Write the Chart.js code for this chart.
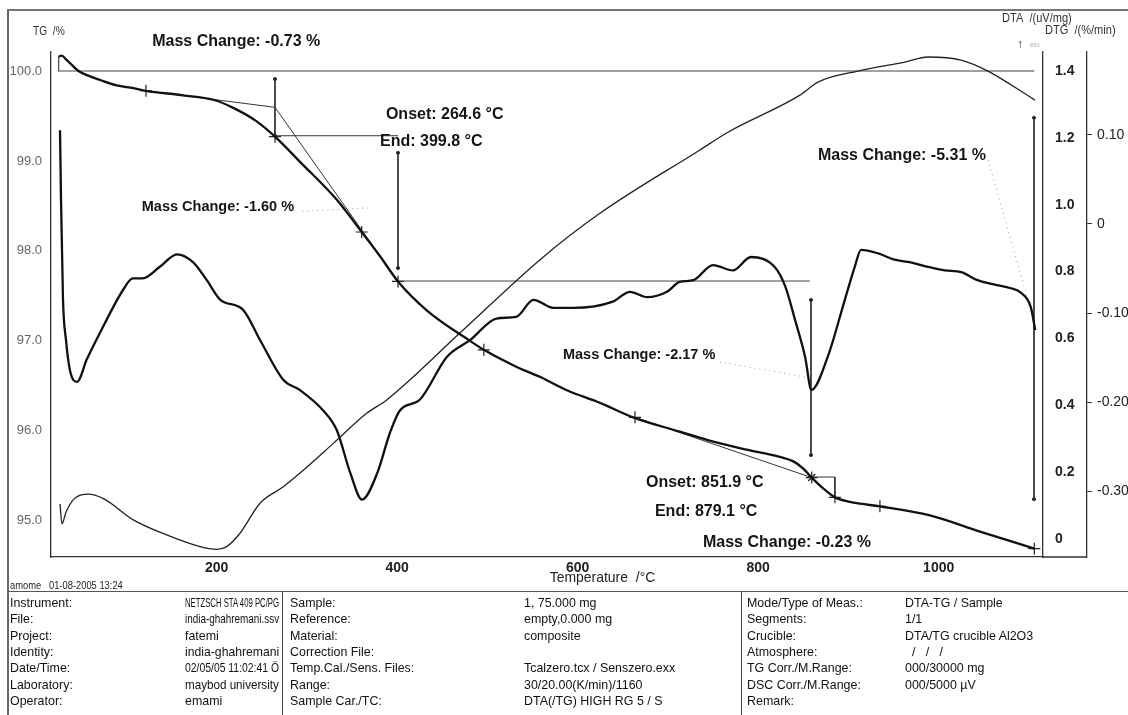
<!DOCTYPE html>
<html>
<head>
<meta charset="utf-8">
<title>DTA-TG india-ghahremani</title>
<script src="https://cdn.jsdelivr.net/npm/chart.js@4.4.1/dist/chart.umd.min.js"></script>
<style>
  body { margin: 0; background: #fff; }
  #page { position: relative; width: 1128px; height: 715px; overflow: hidden; background: #fff; }
  #frame { position: absolute; left: 7px; top: 9px; width: 1130px; height: 720px;
           border-left: 2px solid #666; border-top: 2px solid #777; }
  #myChart { position: absolute; left: 0; top: 0; }
  .narrow { font-family: "Liberation Sans", Arial, sans-serif; }
  #stamp { position: absolute; left: 10px; top: 578px; font-size: 11px; color: #222; line-height: 14px;
           transform: scaleX(0.85); transform-origin: left center; white-space: pre; }
  #info { position: absolute; left: 8px; top: 591px; width: 1120px; height: 130px;
          border-top: 1.5px solid #555; font-size: 13.5px; color: #111; }
  #info .vline { position: absolute; top: 0; width: 0; height: 130px; border-left: 1.5px solid #444; }
  #info .cell { position: absolute; line-height: 16px; white-space: pre; transform-origin: left center; }
</style>
</head>
<body>
<div id="page">
  <div id="frame"></div>
  <canvas id="myChart" width="1128" height="592"></canvas>
  <div id="stamp" class="narrow">amome   01-08-2005 13:24</div>
  <div id="info" class="narrow">
    <div class="vline" style="left:274px"></div>
    <div class="vline" style="left:733px"></div>
  </div>
</div>
<script>
// TG curve (mass %)
const tgTemp = [24.9, 28.2, 34, 46.9, 59.6, 70.7, 89.2, 107.6, 121.6, 163, 196.2, 218.4, 244.3, 264.6, 292.3, 332.9, 360.7, 381, 400.9, 432.7, 480.6, 496, 532.4, 558, 588, 624.7, 661.3, 713.4, 750.3, 787.3, 824, 839, 850, 859.3, 872, 885, 901.7, 913, 934.9, 990.4, 1045.8, 1106];
const tgMass = [100.16, 100.17, 100.12, 100.0, 99.94, 99.9, 99.84, 99.81, 99.78, 99.73, 99.68, 99.59, 99.44, 99.27, 98.99, 98.57, 98.21, 97.94, 97.66, 97.34, 97.0, 96.9, 96.71, 96.6, 96.45, 96.31, 96.15, 95.99, 95.88, 95.79, 95.71, 95.66, 95.58, 95.48, 95.36, 95.26, 95.21, 95.19, 95.16, 95.06, 94.88, 94.69];

// DTA curve (uV/mg)
const dtaTemp = [26.4, 28.5, 33, 42, 57.7, 75, 107.6, 144.6, 181.5, 200, 211, 225.8, 248, 273.8, 292.3, 329.2, 366.2, 388.4, 473, 558, 625, 735.5, 766.5, 846.3, 866.3, 910.6, 962.7, 988.2, 1024.7, 1054.6, 1106.7];
const dtaSignal = [0.105, 0.045, 0.08, 0.12, 0.134, 0.12, 0.057, 0.012, -0.023, -0.031, -0.023, 0.017, 0.107, 0.156, 0.197, 0.286, 0.376, 0.416, 0.625, 0.835, 0.975, 1.164, 1.217, 1.328, 1.367, 1.4, 1.427, 1.442, 1.433, 1.4, 1.313];

// DTG curve (%/min)
const dtgTemp = [26.4, 27.5, 29.7, 33, 37.4, 45.2, 56, 70.7, 96.2, 107, 118, 137, 156, 174, 189, 204, 229, 248, 274, 292, 318, 333, 348, 361, 378, 392, 403, 425, 455, 481, 510, 532, 551, 573, 595, 639, 658, 677, 699, 713, 728, 750, 772, 792, 819, 830, 841, 852, 859, 877, 896, 907, 914, 933, 951, 969, 988, 1007, 1025, 1043, 1062, 1080, 1091, 1102, 1107];
const dtgRate = [0.105, 0.027, -0.085, -0.13, -0.164, -0.177, -0.152, -0.122, -0.074, -0.061, -0.061, -0.048, -0.034, -0.043, -0.063, -0.085, -0.096, -0.13, -0.175, -0.186, -0.209, -0.231, -0.279, -0.309, -0.279, -0.234, -0.209, -0.197, -0.149, -0.13, -0.106, -0.104, -0.085, -0.094, -0.094, -0.087, -0.076, -0.082, -0.076, -0.065, -0.063, -0.046, -0.052, -0.037, -0.049, -0.07, -0.108, -0.149, -0.186, -0.149, -0.085, -0.048, -0.029, -0.033, -0.04, -0.043, -0.048, -0.052, -0.054, -0.063, -0.068, -0.072, -0.077, -0.093, -0.119];

// evaluation marks on the TG curve
const crossTemp = [121.6, 264.6, 360.7, 400.9, 496, 663.5, 859.3, 885, 934.9, 1106];
const crossMass = [99.78, 99.27, 98.21, 97.66, 96.9, 96.15, 95.48, 95.26, 95.16, 94.69];

// construction lines of the step evaluation ([temp, mass])
const baseLine = [[24.9, 100.16], [24.9, 100.0], [1106, 100.0]];
const tangentA = [[121.6, 99.78], [264.6, 99.596]];
const tangentB = [[264.6, 99.596], [400.9, 97.66]];
const tangentC = [[663.5, 96.15], [859.3, 95.48]];
const levelA = [[264.6, 99.28], [400.9, 99.28]];
const levelB = [[400.9, 97.665], [857.4, 97.665]];
const stepBox = [[859.3, 95.486], [885, 95.486], [885, 95.26]];
const arrowA = [[264.6, 99.91], [264.6, 99.28]];
const arrowB = [[400.9, 99.09], [400.9, 97.81]];
const arrowC = [[858.5, 97.454], [858.5, 95.73]];
const arrowD = [[1105.6, 99.48], [1105.6, 95.24]];
const leaderA = [[295, 98.44], [372, 98.48]];
const leaderB = [[757.7, 96.765], [852, 96.598]];
const leaderC = [[1054.6, 99.01], [1102.3, 97.34]];

// tick labels
const tempTicks = [200, 400, 600, 800, 1000];
const tgTicks = [95, 96, 97, 98, 99, 100];
const dtaTicks = [0, 0.2, 0.4, 0.6, 0.8, 1.0, 1.2, 1.4];
const dtgTicks = [0.1, 0, -0.1, -0.2, -0.3];

// info block under the plot
const infoLabels1 = ['Instrument:', 'File:', 'Project:', 'Identity:', 'Date/Time:', 'Laboratory:', 'Operator:'];
const infoValues1 = ['NETZSCH STA 409 PC/PG', 'india-ghahremani.ssv', 'fatemi', 'india-ghahremani', '02/05/05 11:02:41 Ö', 'maybod university', 'emami'];
const infoLabels2 = ['Sample:', 'Reference:', 'Material:', 'Correction File:', 'Temp.Cal./Sens. Files:', 'Range:', 'Sample Car./TC:'];
const infoValues2 = ['1, 75.000 mg', 'empty,0.000 mg', 'composite', '', 'Tcalzero.tcx / Senszero.exx', '30/20.00(K/min)/1160', 'DTA(/TG) HIGH RG 5 / S'];
const infoLabels3 = ['Mode/Type of Meas.:', 'Segments:', 'Crucible:', 'Atmosphere:', 'TG Corr./M.Range:', 'DSC Corr./M.Range:', 'Remark:'];
const infoValues3 = ['DTA-TG / Sample', '1/1', 'DTA/TG crucible Al2O3', '  /   /   /', '000/30000 mg', '000/5000 µV', ''];

// fill the info table; each column squeezes its text to the room it has
const info = document.getElementById('info');
const infoCols = [
  [infoLabels1, 2, 165], [infoValues1, 177, 94],
  [infoLabels2, 282, 225], [infoValues2, 516, 212],
  [infoLabels3, 739, 150], [infoValues3, 897, 225]
];
infoCols.forEach(([texts, left, room]) => {
  texts.forEach((t, i) => {
    const d = document.createElement('div');
    d.className = 'cell';
    d.style.left = left + 'px';
    d.style.top = (3 + i * 16.3) + 'px';
    d.textContent = t;
    info.appendChild(d);
    const w = d.offsetWidth || 1;
    const k = Math.min(0.92, room / w);
    d.style.transform = 'scaleX(' + k.toFixed(3) + ')';
  });
});

const toPoints = (xs, ys) => xs.map((x, i) => ({ x: x, y: ys[i] }));
const pairPoints = arr => arr.map(p => ({ x: p[0], y: p[1] }));

// helper for the thin construction lines
function thin(points, extra) {
  return Object.assign({
    data: pairPoints(points), yAxisID: 'yTG', showLine: true, borderColor: '#333',
    borderWidth: 1, pointRadius: 0, tension: 0
  }, extra || {});
}

const datasets = [
  { label: 'TG', data: toPoints(tgTemp, tgMass), yAxisID: 'yTG', showLine: true,
    borderColor: '#111', borderWidth: 2.3, pointRadius: 0, cubicInterpolationMode: 'monotone' },
  { label: 'DTA', data: toPoints(dtaTemp, dtaSignal), yAxisID: 'yDTA', showLine: true,
    borderColor: '#222', borderWidth: 1.3, pointRadius: 0, cubicInterpolationMode: 'monotone' },
  { label: 'DTG', data: toPoints(dtgTemp, dtgRate), yAxisID: 'yDTG', showLine: true,
    borderColor: '#111', borderWidth: 2.3, pointRadius: 0, cubicInterpolationMode: 'monotone' },
  thin(baseLine, { borderColor: '#444', borderWidth: 1.2 }),
  thin(tangentA), thin(tangentB), thin(tangentC),
  thin(levelA), thin(levelB, { borderColor: '#444' }), thin(stepBox),
  thin(arrowA, { pointRadius: 1.6, pointBackgroundColor: '#222' }),
  thin(arrowB, { pointRadius: 1.6, pointBackgroundColor: '#222' }),
  thin(arrowC, { pointRadius: 1.6, pointBackgroundColor: '#222' }),
  thin(arrowD, { pointRadius: 1.6, pointBackgroundColor: '#222' }),
  thin(leaderA, { borderColor: '#999', borderDash: [1, 4] }),
  thin(leaderB, { borderColor: '#999', borderDash: [1, 4] }),
  thin(leaderC, { borderColor: '#999', borderDash: [1, 4] }),
  { label: 'marks', data: toPoints(crossTemp, crossMass), yAxisID: 'yTG', showLine: false,
    pointStyle: 'cross', pointRadius: 6, borderColor: '#222', borderWidth: 1.2 },
  { label: 'onset', data: [{ x: crossTemp[6], y: crossMass[6] }], yAxisID: 'yTG', showLine: false,
    pointStyle: 'crossRot', pointRadius: 5, borderColor: '#222', borderWidth: 1.4 }
];

// result texts, anchored in temperature / TG coordinates
const notes = [
  ['Mass Change: -0.73 %', 128.5, 100.322, 16],
  ['Onset: 264.6 °C', 387.5, 99.52, 16],
  ['End: 399.8 °C', 381, 99.21, 16],
  ['Mass Change: -1.60 %', 117, 98.49, 14.5],
  ['Mass Change: -5.31 %', 866.2, 99.055, 16],
  ['Mass Change: -2.17 %', 583.7, 96.84, 14.5],
  ['Onset: 851.9 °C', 675.7, 95.42, 16],
  ['End: 879.1 °C', 685.6, 95.097, 16],
  ['Mass Change: -0.23 %', 738.8, 94.76, 16]
];

// narrow "plotter" text: Liberation Sans squeezed horizontally
function narrowText(ctx, text, px, py, size, color, squeeze) {
  ctx.save();
  ctx.translate(px, py);
  ctx.scale(squeeze || 0.85, 1);
  ctx.font = size + 'px "Liberation Sans", Arial, sans-serif';
  ctx.fillStyle = color;
  ctx.textAlign = 'left';
  ctx.textBaseline = 'middle';
  ctx.fillText(text, 0, 0);
  ctx.restore();
}

const overlay = {
  id: 'overlay',
  afterDraw(chart) {
    const { ctx, chartArea, scales } = chart;
    const x = scales.x, y = scales.yTG;
    ctx.save();
    // bottom frame runs on under the DTA axis
    ctx.strokeStyle = '#333';
    ctx.lineWidth = 1.3;
    ctx.beginPath();
    ctx.moveTo(chartArea.right, chartArea.bottom);
    ctx.lineTo(scales.yDTG.left, chartArea.bottom);
    ctx.stroke();

    // axis titles
    narrowText(ctx, 'TG  /%', 33, 32, 12, '#333');
    narrowText(ctx, 'DTA  /(uV/mg)', 1002, 18, 13, '#333');
    narrowText(ctx, 'DTG  /(%/min)', 1045, 30, 13, '#333');
    narrowText(ctx, 'Temperature  /°C', x.getPixelForValue(569), 578, 15, '#222', 0.93);
    ctx.textBaseline = 'middle';
    ctx.textAlign = 'left';
    ctx.fillStyle = '#222';
    ctx.font = 'bold 12px "Liberation Sans", sans-serif';
    ctx.fillText('↑', 1017, 45);
    narrowText(ctx, 'exo', 1030, 45, 7, '#aaa');

    // evaluation results
    ctx.fillStyle = '#151515';
    notes.forEach(([text, t, v, size]) => {
      ctx.font = 'bold ' + size + 'px "Liberation Sans", Arial, sans-serif';
      ctx.fillText(text, x.getPixelForValue(t), y.getPixelForValue(v));
    });
    ctx.restore();
  }
};

const axisGrid = { display: true, drawOnChartArea: false, drawTicks: false };
const axisBorder = { display: true, color: '#333', width: 1.3 };

const config = {
  type: 'scatter',
  data: { datasets: datasets },
  options: {
    responsive: false,
    animation: false,
    layout: { padding: { top: 52, left: 0, right: 0, bottom: 0 } },
    plugins: { legend: { display: false }, tooltip: { enabled: false } },
    scales: {
      x: {
        type: 'linear', position: 'bottom', min: 16.4, max: 1115.6,
        afterFit: s => { s.height = 35; },
        afterBuildTicks: s => { s.ticks = tempTicks.map(v => ({ value: v })); },
        grid: axisGrid, border: axisBorder,
        ticks: { padding: 3, color: '#222', font: { family: 'Liberation Sans', size: 14, weight: 'bold' },
                 callback: v => String(v) }
      },
      yTG: {
        type: 'linear', position: 'left', min: 94.597, max: 100.211,
        afterFit: s => { s.width = 51; },
        afterBuildTicks: s => { s.ticks = tgTicks.map(v => ({ value: v })); },
        grid: axisGrid, border: axisBorder,
        ticks: { padding: 9, color: '#666', font: { family: 'Liberation Sans', size: 13 },
                 callback: v => v.toFixed(1) }
      },
      yDTA: {
        type: 'linear', position: 'right', weight: 0, min: -0.054, max: 1.457,
        afterFit: s => { s.width = 44; },
        afterBuildTicks: s => { s.ticks = dtaTicks.map(v => ({ value: v })); },
        grid: axisGrid, border: axisBorder,
        ticks: { padding: 12, color: '#222', font: { family: 'Liberation Sans', size: 14, weight: 'bold' },
                 callback: v => (v === 0 ? '0' : v.toFixed(1)) }
      },
      yDTG: {
        type: 'linear', position: 'right', weight: 1, min: -0.3733, max: 0.1928,
        afterFit: s => { s.width = 41; },
        afterBuildTicks: s => { s.ticks = dtgTicks.map(v => ({ value: v })); },
        grid: { display: true, drawOnChartArea: false, drawTicks: true, tickLength: 5, color: '#333' },
        border: axisBorder,
        ticks: { padding: 5, color: '#222', font: { family: 'Liberation Sans', size: 14 },
                 callback: v => (v === 0 ? '0' : v.toFixed(2)) }
      }
    }
  },
  plugins: [overlay]
};

const ctx = document.getElementById('myChart').getContext('2d');
const myChart = new Chart(ctx, config);
</script>
</body>
</html>
